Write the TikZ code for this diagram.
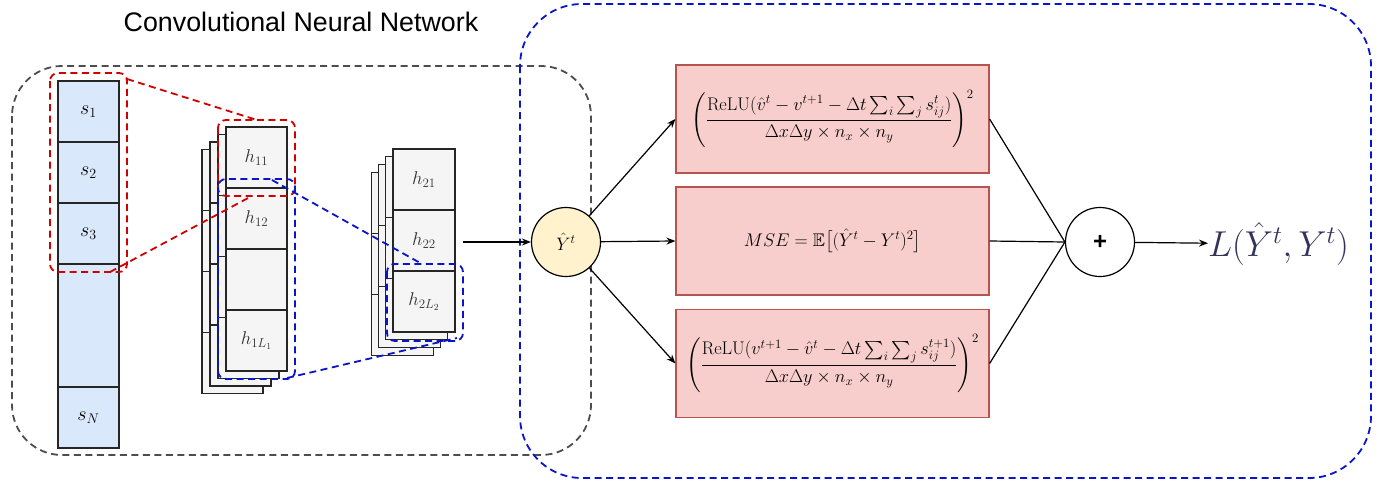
\RequirePackage{fix-cm}
\documentclass[tikz,border=0pt]{standalone}
\usepackage{amsmath,amssymb}
\usepackage{fontspec}
\setsansfont{Liberation Sans}
\usetikzlibrary{arrows.meta}
\definecolor{blueF}{HTML}{DAE8FC}
\definecolor{redF}{HTML}{F8CECC}
\definecolor{redD}{HTML}{B85450}
\definecolor{yelF}{HTML}{FFF2CC}
\definecolor{grayF}{HTML}{F5F5F5}
\definecolor{dashRed}{HTML}{D00000}
\definecolor{dashBlue}{HTML}{0A14C8}
\definecolor{dashGray}{HTML}{4D4D4D}
\definecolor{Lcol}{HTML}{33335A}
\begin{document}
\begin{tikzpicture}[x=1pt,y=-1pt,
  cellS/.style={draw=black!85, fill=blueF, line width=1.1pt, minimum width=61pt, inner sep=0pt, outer sep=0pt, anchor=north, font=\fontsize{20}{22}\selectfont},
  cellH/.style={draw=black!85, fill=grayF, line width=1.1pt, minimum width=61pt, minimum height=61pt, inner sep=0pt, outer sep=0pt, anchor=north, text=black!80, font=\fontsize{18.5}{21}\selectfont},
  layer/.style={draw=black!85, fill=grayF, line width=1.1pt},
  layerline/.style={draw=black!85, line width=1.1pt},
  dashR/.style={draw=dashRed, line width=1.8pt, dash pattern=on 7pt off 4.5pt},
  dashB/.style={draw=dashBlue, line width=1.8pt, dash pattern=on 7pt off 4.5pt},
  dashG/.style={draw=dashGray, line width=1.8pt, dash pattern=on 7pt off 4.5pt},
  lossbox/.style={draw=redD, fill=redF, line width=1.2pt, minimum width=313pt, minimum height=108pt, inner sep=0pt, font=\fontsize{18.3}{21}\selectfont},
  conn/.style={draw=black, line width=1.2pt},
  arr/.style={conn, -{Stealth[length=9pt,width=7pt]}},
  circ/.style={circle, draw=black, line width=1.2pt, minimum size=69pt, inner sep=0pt}
]
\useasboundingbox (0,0) rectangle (1386,482);

% title
\node[font=\sffamily\fontsize{26.8}{30}\selectfont] (title) at (301,22) {Convolutional Neural Network};

% big dashed containers
\draw[dashG, rounded corners=50pt] (12,66) rectangle (591,455);
\draw[dashB, rounded corners=62pt] (520,4) rectangle (1371,478);

% s column
\node[cellS, minimum height=61pt] (s1) at (88.5,81) {$s_1$};
\node[cellS, minimum height=61pt] (s2) at (s1.south) {$s_2$};
\node[cellS, minimum height=61pt] (s3) at (s2.south) {$s_3$};
\node[cellS, minimum height=123pt] (s4) at (s3.south) {};
\node[cellS, minimum height=61pt] (sN) at (s4.south) {$s_N$};

% h1 stack
\foreach \k in {3,2,1} {
  \draw[layer] ({226-8*\k},{127+7.5*\k}) rectangle ++(61,244);
  \foreach \i in {1,2,3}
    \draw[layerline] ({226-8*\k},{127+7.5*\k+61*\i}) -- ++(61,0);
}
\node[cellH] (h11) at (256.5,127) {$h_{11}$};
\node[cellH] (h12) at (h11.south) {$h_{12}$};
\node[cellH] (h13) at (h12.south) {};
\node[cellH] (h1L) at (h13.south) {$h_{1L_1}$};

% h2 stack
\foreach \k in {3,2,1} {
  \draw[layer] ({393-7.3*\k},{149+7.7*\k}) rectangle ++(62,183);
  \foreach \i in {1,2}
    \draw[layerline] ({393-7.3*\k},{149+7.7*\k+61*\i}) -- ++(62,0);
}
\node[cellH, minimum width=62pt] (h21) at (424,149) {$h_{21}$};
\node[cellH, minimum width=62pt] (h22) at (h21.south) {$h_{22}$};
\node[cellH, minimum width=62pt] (h2L) at (h22.south) {$h_{2L_2}$};

% red receptive field
\draw[dashR, rounded corners=8pt] (50,73) rectangle (127,272);
\draw[dashR, rounded corners=8pt] (218,120) rectangle (295,196);
\coordinate (rA1) at (127,79);
\coordinate (rA2) at (257,120);
\coordinate (rB1) at (110,272);
\coordinate (rB2) at (250,197);
\draw[dashR] (rA1) -- (rA2);
\draw[dashR] (rB1) -- (rB2);

% blue receptive field
\draw[dashB, rounded corners=8pt] (218,179) rectangle (295,379);
\draw[dashB, rounded corners=8pt] (387,264) rectangle (463,341);
\coordinate (bA1) at (272,180);
\coordinate (bA2) at (422,264);
\coordinate (bB1) at (287,378);
\coordinate (bB2) at (457,338);
\draw[dashB] (bA1) -- (bA2);
\draw[dashB] (bB1) -- (bB2);

% prediction
\node[circ, fill=yelF, font=\fontsize{18}{21}\selectfont] (Y) at (566,242) {$\hat{Y}^t$};
\coordinate (hout) at (463,242);
\draw[arr] (hout) -- (Y);

% loss boxes
\node[lossbox] (b1) at (832.5,119) {$\displaystyle\left(\frac{\mathrm{ReLU}(\hat{v}^t - v^{t+1} - \Delta t\textstyle\sum_i\sum_j s^t_{ij})}{\Delta x\Delta y\times n_x\times n_y}\right)^{2}$};
\node[lossbox] (b2) at (832.5,241) {$MSE=\mathbb{E}\big[(\hat{Y}^t-Y^t)^2\big]$};
\node[lossbox] (b3) at (832.5,363.5) {$\displaystyle\left(\frac{\mathrm{ReLU}(v^{t+1} - \hat{v}^t - \Delta t\textstyle\sum_i\sum_j s^{t+1}_{ij})}{\Delta x\Delta y\times n_x\times n_y}\right)^{2}$};

\draw[arr] (Y) -- (b1.west);
\draw[arr] (Y) -- (b2.west);
\draw[arr] (Y) -- (b3.west);

% sum
\node[circ, fill=white, font=\sffamily\bfseries\fontsize{24}{26}\selectfont] (P) at (1100,242) {+};
\draw[conn] (b1.east) -- (P.west);
\draw[conn] (b2.east) -- (P.west);
\draw[conn] (b3.east) -- (P.west);

\node[anchor=west, text=Lcol, inner sep=0pt, font=\fontsize{36}{40}\selectfont] (L) at (1208,244) {$L(\hat{Y}^t,Y^t)$};
\draw[arr] (P) -- (L);
\end{tikzpicture}
\end{document}
